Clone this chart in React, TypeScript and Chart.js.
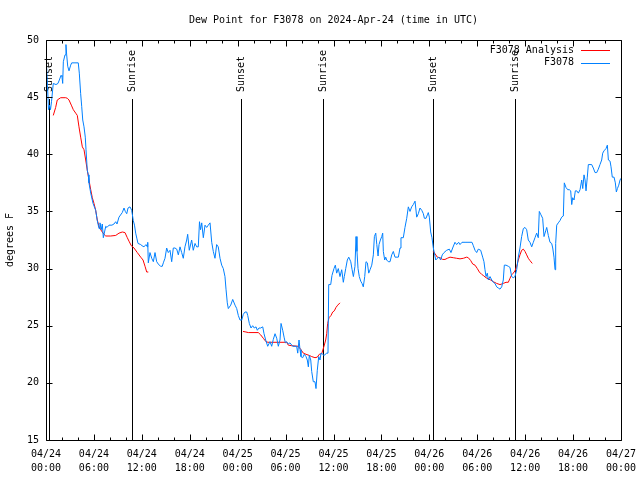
import React, { useEffect, useRef } from "react";
import { Chart, registerables } from "chart.js";

Chart.register(...registerables);

const TITLE = "Dew Point for F3078 on 2024-Apr-24 (time in UTC)";
const Y_LABEL = "degrees F";
const SERIES_NAMES = ["F3078 Analysis", "F3078"];

const xDateLabels = ["04/24", "04/24", "04/24", "04/24", "04/25", "04/25", "04/25", "04/25", "04/26", "04/26", "04/26", "04/26", "04/27"];
const xTimeLabels = ["00:00", "06:00", "12:00", "18:00", "00:00", "06:00", "12:00", "18:00", "00:00", "06:00", "12:00", "18:00", "00:00"];

const eventHours = [0.41, 10.8, 24.4, 34.72, 48.5, 58.76];
const eventLabels = ["Sunset", "Sunrise", "Sunset", "Sunrise", "Sunset", "Sunrise"];

// F3078 observed dew point (hours since 04/24 00:00 UTC)
const obsHours = [
  0.06, 0.19, 0.31, 0.44, 0.56, 0.69, 0.91, 1.25, 1.5, 1.67, 1.88, 2.0, 2.09, 2.17, 2.38, 2.5, 2.59, 2.72, 2.88, 3.09,
  3.22, 3.63, 4.04, 4.17, 4.34, 4.47, 4.6, 4.76, 4.92, 5.01, 5.17, 5.3, 5.38, 5.6, 5.89, 6.22, 6.42, 6.64, 6.76, 6.92,
  7.05, 7.18, 7.48, 7.64, 7.89, 8.26, 8.51, 8.73, 8.89, 9.14, 9.55, 9.77, 9.93, 10.11, 10.27, 10.52, 10.73, 10.93, 11.08, 11.23,
  11.39, 11.52, 11.86, 12.02, 12.27, 12.52, 12.69, 12.74, 12.81, 13.02, 13.24, 13.44, 13.65, 13.86, 14.06, 14.34, 14.56, 14.69, 14.9, 15.11,
  15.31, 15.53, 15.74, 15.94, 16.15, 16.37, 16.57, 16.78, 16.99, 17.19, 17.4, 17.62, 17.74, 17.94, 18.24, 18.44, 18.66, 18.87, 19.07, 19.22,
  19.35, 19.5, 19.7, 19.91, 20.12, 20.32, 20.54, 20.75, 20.95, 21.16, 21.37, 21.57, 21.79, 22.0, 22.2, 22.41, 22.54, 22.7, 22.83, 23.13,
  23.38, 23.67, 23.88, 24.08, 24.29, 24.51, 24.71, 24.92, 25.13, 25.26, 25.46, 25.67, 25.88, 26.08, 26.3, 26.46, 26.67, 26.88, 27.14, 27.3,
  27.51, 27.76, 28.05, 28.26, 28.46, 28.68, 28.89, 29.09, 29.3, 29.43, 29.64, 29.81, 29.97, 30.14, 30.34, 30.55, 30.89, 31.18, 31.39, 31.52,
  31.68, 31.81, 31.93, 32.14, 32.34, 32.56, 32.72, 32.85, 32.97, 33.15, 33.27, 33.47, 33.68, 33.81, 33.97, 34.15, 34.31, 34.44, 34.65, 34.81,
  35.15, 35.31, 35.4, 35.65, 35.81, 36.06, 36.23, 36.4, 36.6, 36.81, 37.03, 37.23, 37.35, 37.53, 37.73, 37.91, 38.16, 38.33, 38.49, 38.69,
  38.82, 38.94, 39.07, 39.23, 39.41, 39.57, 39.73, 39.91, 40.07, 40.24, 40.41, 40.58, 40.79, 40.99, 41.12, 41.29, 41.42, 41.58, 41.7, 41.87,
  42.04, 42.16, 42.24, 42.41, 42.54, 42.66, 42.86, 43.08, 43.29, 43.49, 43.7, 44.12, 44.33, 44.45, 44.74, 44.95, 45.17, 45.37, 45.58, 45.79,
  45.99, 46.21, 46.42, 46.62, 46.83, 47.05, 47.25, 47.38, 47.59, 47.75, 47.87, 48.0, 48.17, 48.33, 48.5, 48.62, 48.8, 49.0, 49.21, 49.42,
  49.62, 49.84, 50.17, 50.5, 50.71, 50.92, 51.21, 51.42, 51.67, 51.84, 52.09, 52.47, 52.84, 53.34, 53.51, 53.72, 53.93, 54.13, 54.43, 54.68,
  54.84, 54.97, 55.1, 55.26, 55.39, 55.6, 55.81, 56.01, 56.22, 56.43, 56.64, 56.85, 57.06, 57.26, 57.39, 57.6, 57.89, 58.1, 58.31, 58.51,
  58.72, 58.94, 59.14, 59.35, 59.56, 59.77, 59.98, 60.19, 60.39, 60.6, 60.82, 61.02, 61.23, 61.44, 61.64, 61.77, 61.98, 62.19, 62.36, 62.57,
  62.7, 62.9, 63.11, 63.32, 63.45, 63.61, 63.74, 63.82, 63.95, 64.15, 64.36, 64.57, 64.78, 64.9, 65.11, 65.33, 65.53, 65.7, 65.83, 65.95,
  66.12, 66.28, 66.46, 66.66, 66.87, 67.08, 67.21, 67.37, 67.5, 67.62, 67.78, 67.91, 68.33, 68.53, 68.75, 68.96, 69.16, 69.37, 69.58, 69.71,
  69.87, 70.12, 70.29, 70.42, 70.63, 70.75, 70.91, 71.13, 71.29, 71.42, 71.55, 71.72, 71.88, 72.0,
];
const obsDew = [
  47.8, 46.0, 43.9, 44.3, 43.9, 44.6, 46.2, 46.1, 46.2, 46.5, 46.9, 46.8, 46.2, 48.1, 48.7, 49.6, 48.7, 47.7, 47.3, 47.8,
  48.0, 48.0, 48.0, 47.1, 45.3, 44.2, 43.0, 42.4, 41.5, 40.4, 38.6, 38.2, 37.5, 36.6, 35.7, 35.1, 34.2, 33.5, 34.0, 33.4,
  33.9, 32.7, 33.7, 33.6, 33.8, 33.8, 33.9, 34.1, 33.9, 34.5, 34.9, 35.3, 35.0, 34.8, 35.3, 35.4, 35.1, 34.2, 33.8, 33.1,
  32.6, 32.2, 32.1, 32.0, 31.9, 32.1, 31.9, 32.3, 30.5, 31.4, 30.9, 30.6, 31.4, 30.6, 30.4, 30.2, 30.2, 30.5, 30.9, 31.8,
  31.4, 31.6, 30.6, 31.8, 31.8, 31.7, 31.2, 31.9, 31.4, 30.9, 31.9, 32.5, 33.0, 31.6, 32.5, 31.6, 32.2, 31.9, 31.9, 34.1,
  33.4, 34.0, 32.7, 33.8, 33.6, 33.8, 34.0, 32.3, 31.5, 30.9, 32.1, 31.9, 30.9, 30.3, 30.0, 29.3, 28.2, 27.0, 26.5, 26.8,
  27.3, 26.8, 26.5, 25.9, 25.5, 25.5, 26.0, 26.2, 26.2, 25.9, 25.2, 24.8, 25.0, 24.8, 24.9, 24.6, 24.8, 24.8, 24.9, 24.3,
  23.75, 23.2, 23.6, 23.2, 23.8, 24.3, 23.9, 23.2, 23.75, 25.2, 24.6, 24.0, 23.5, 23.6, 23.4, 23.5, 23.2, 23.2, 23.2, 22.6,
  23.75, 22.9, 22.3, 22.2, 22.5, 22.3, 22.0, 21.4, 22.4, 22.0, 21.0, 20.1, 20.1, 19.5, 21.1, 22.3, 22.0, 22.6, 22.5, 22.4,
  22.6, 22.6, 28.6, 28.6, 29.4, 30.0, 30.3, 29.6, 30.0, 29.3, 29.9, 28.8, 29.3, 30.0, 30.75, 31.0, 30.6, 29.9, 29.3, 30.2,
  32.8, 31.5, 30.0, 29.3, 28.9, 28.7, 28.4, 29.3, 30.6, 30.5, 29.6, 29.9, 30.3, 31.2, 32.8, 33.1, 32.1, 31.1, 32.1, 32.5,
  32.8, 33.1, 31.5, 30.75, 31.0, 30.75, 30.6, 30.6, 31.2, 31.5, 31.0, 31.0, 31.8, 32.7, 32.7, 33.6, 34.4, 35.4, 35.0, 35.4,
  35.6, 35.9, 34.5, 34.8, 35.3, 35.1, 34.8, 34.4, 34.4, 34.7, 34.9, 34.5, 33.2, 32.7, 31.8, 31.4, 30.75, 30.9, 31.0, 30.75,
  31.2, 31.4, 31.6, 31.7, 31.4, 31.8, 32.3, 32.1, 32.3, 32.1, 32.3, 32.3, 32.3, 32.3, 32.0, 31.6, 31.4, 31.7, 31.6, 31.0,
  30.6, 29.9, 29.3, 29.6, 29.0, 29.3, 29.0, 28.8, 28.7, 28.4, 28.3, 28.2, 28.4, 29.0, 30.3, 30.3, 30.2, 30.1, 29.3, 29.2,
  29.3, 29.9, 31.0, 31.8, 32.8, 33.5, 33.6, 33.4, 32.5, 32.3, 31.9, 32.3, 32.7, 33.1, 32.7, 35.0, 34.7, 34.4, 32.8, 33.3,
  33.6, 32.9, 32.3, 32.2, 31.8, 31.0, 29.9, 32.2, 33.8, 34.0, 34.2, 34.5, 34.6, 37.5, 37.1, 36.9, 36.9, 36.8, 35.6, 36.2,
  36.0, 36.8, 36.8, 36.6, 36.9, 37.75, 37.0, 38.2, 37.75, 36.8, 38.0, 39.1, 39.1, 38.8, 38.4, 38.4, 38.7, 39.1, 39.5, 40.1,
  40.3, 40.5, 40.8, 39.5, 39.4, 38.9, 38.0, 38.0, 37.5, 36.7, 37.0, 37.3, 37.75, 37.9,
];

// F3078 Analysis (null = no analysis available)
const anaHours = [
  0.91, 1.21, 1.41, 1.84, 2.47, 2.67, 2.88, 3.17, 3.42, 3.72, 3.92, 4.13, 4.34, 4.55, 4.76, 4.97, 5.17, 5.38, 5.6, 5.8,
  6.01, 6.22, 6.42, 6.64, 6.85, 7.05, 7.26, 7.48, 8.1, 8.73, 9.14, 9.55, 9.89, 10.18, 10.39, 10.68, 11.02, 11.43, 11.86, 12.15,
  12.4, 12.61, 12.81, 13.0,
  24.67, 25.04, 25.33, 26.58, 26.88, 27.21, 27.55, 27.8, 30.14, 30.34, 30.77, 31.59, 31.93, 32.22, 32.56, 32.97, 33.27, 33.68, 33.97, 34.22,
  34.52, 34.81, 35.02, 35.15, 35.27, 35.44, 35.69, 35.9, 36.1, 36.31, 36.53, 36.81, 37.0,
  48.5, 48.71, 49.0, 49.34, 49.67, 49.96, 50.25, 50.59, 51.0, 51.42, 51.84, 52.26, 52.68, 52.88, 53.18, 53.43, 53.72, 54.01, 54.26, 54.54,
  54.75, 55.1, 55.39, 55.68, 56.01, 56.43, 56.85, 57.26, 57.6, 57.89, 58.1, 58.31, 58.51, 58.72, 58.94, 59.14, 59.35, 59.56, 59.77, 59.98,
  60.19, 60.39, 60.6, 60.89,
];
const anaDew = [
  43.4, 44.1, 44.75, 44.95, 44.95, 44.9, 44.75, 44.3, 43.9, 43.6, 43.4, 42.4, 41.5, 40.65, 40.4, 39.5, 38.6, 37.75, 36.9, 36.2,
  35.7, 35.1, 34.25, 33.7, 33.4, 33.2, 33.0, 32.85, 32.85, 32.9, 33.1, 33.2, 33.15, 32.7, 32.4, 32.0, 31.8, 31.4, 31.0, 30.75,
  30.2, 29.7, 29.7, null,
  24.5, 24.45, 24.4, 24.4, 24.2, 23.9, 23.6, 23.55, 23.55, 23.3, 23.25, 23.2, 22.9, 22.6, 22.5, 22.4, 22.3, 22.2, 22.25, 22.5,
  22.55, 23.2, 23.75, 24.3, 25.2, 25.7, 25.9, 26.2, 26.3, 26.6, 26.8, 27.0, null,
  31.5, 31.3, 31.0, 30.95, 30.8, 30.8, 30.9, 31.0, 30.95, 30.9, 30.85, 30.9, 31.0, 30.95, 30.7, 30.4, 30.3, 30.0, 29.7, 29.5,
  29.4, 29.2, 29.1, 29.0, 28.85, 28.7, 28.6, 28.7, 28.8, 28.8, 29.15, 29.45, 29.6, 29.8, 30.2, 30.75, 31.2, 31.6, 31.7, 31.5,
  31.2, 30.9, 30.7, 30.45,
];

const RED = "#ff0000";
const BLUE = "#0080ff";
const FONT = "'DejaVu Sans Mono', monospace";

const gnuplotDecor = {
  id: "gnuplotDecor",
  beforeDatasetsDraw(chart: any) {
    const { ctx, chartArea, scales } = chart;
    const xs = scales.x;
    ctx.save();
    ctx.strokeStyle = "#000";
    ctx.lineWidth = 1;
    ctx.fillStyle = "#000";
    ctx.font = `10px ${FONT}`;
    eventHours.forEach((h, i) => {
      const px = Math.round(xs.getPixelForValue(h)) + 0.5;
      ctx.beginPath();
      ctx.moveTo(px, 99);
      ctx.lineTo(px, chartArea.bottom);
      ctx.stroke();
      ctx.save();
      ctx.translate(px, 92);
      ctx.rotate(-Math.PI / 2);
      ctx.textAlign = "left";
      ctx.textBaseline = "middle";
      ctx.fillText(eventLabels[i], 0, 0);
      ctx.restore();
    });
    ctx.restore();
  },
  afterDraw(chart: any) {
    const { ctx, chartArea, scales } = chart;
    const xs = scales.x;
    const ys = scales.y;
    const L = Math.round(chartArea.left) + 0.5;
    const R = Math.round(chartArea.right) + 0.5;
    const T = Math.round(chartArea.top) + 0.5;
    const B = Math.round(chartArea.bottom) + 0.5;
    ctx.save();
    ctx.strokeStyle = "#000";
    ctx.lineWidth = 1;
    ctx.beginPath();
    ctx.rect(L, T, R - L, B - T);
    // x ticks (major every 6 h, minor every 2 h), mirrored on top
    for (let h = 0; h <= 72; h += 2) {
      const px = Math.round(xs.getPixelForValue(h)) + 0.5;
      const len = h % 6 === 0 ? 6 : 3;
      ctx.moveTo(px, B);
      ctx.lineTo(px, B - len);
      ctx.moveTo(px, T);
      ctx.lineTo(px, T + len);
    }
    // y ticks, mirrored on right
    for (let v = 15; v <= 50; v += 5) {
      const py = Math.round(ys.getPixelForValue(v)) + 0.5;
      ctx.moveTo(L, py);
      ctx.lineTo(L + 6, py);
      ctx.moveTo(R, py);
      ctx.lineTo(R - 6, py);
    }
    ctx.stroke();

    // legend
    ctx.font = `10px ${FONT}`;
    ctx.fillStyle = "#000";
    ctx.textAlign = "right";
    ctx.textBaseline = "middle";
    const colors = [RED, BLUE];
    SERIES_NAMES.forEach((name, i) => {
      const y = 50 + i * 12.5;
      ctx.fillText(name, 574, y);
      ctx.strokeStyle = colors[i];
      ctx.beginPath();
      ctx.moveTo(581, Math.round(y) + 0.5);
      ctx.lineTo(610, Math.round(y) + 0.5);
      ctx.stroke();
    });
    ctx.restore();
  },
};

export default function App() {
  const ref = useRef<HTMLCanvasElement | null>(null);
  useEffect(() => {
    if (!ref.current) return;
    const obsData = obsHours.map((h, i) => ({ x: h, y: obsDew[i] }));
    const anaData = anaHours.map((h, i) => ({ x: h, y: anaDew[i] }));
    const chart = new Chart(ref.current, {
      type: "line",
      data: {
        datasets: [
          {
            label: SERIES_NAMES[1],
            data: obsData,
            borderColor: BLUE,
            borderWidth: 1,
            pointRadius: 0,
            tension: 0,
            fill: false,
          },
          {
            label: SERIES_NAMES[0],
            data: anaData,
            borderColor: RED,
            borderWidth: 1,
            pointRadius: 0,
            tension: 0,
            fill: false,
            spanGaps: false,
          },
        ],
      },
      options: {
        animation: false,
        responsive: false,
        events: [],
        layout: { padding: { left: 0, right: 19, top: 0, bottom: 0 } },
        plugins: {
          legend: { display: false },
          tooltip: { enabled: false },
          title: {
            display: true,
            text: TITLE,
            fullSize: false,
            color: "#000",
            font: { family: FONT, size: 10, weight: "normal", lineHeight: 1.2 },
            padding: { top: 14, bottom: 14 },
          },
        },
        scales: {
          x: {
            type: "linear",
            min: 0,
            max: 72,
            grid: { display: false, drawTicks: false },
            border: { display: false },
            afterFit: (s: any) => {
              s.height = 40;
              s.paddingLeft = 0;
              s.paddingRight = 0;
            },
            afterBuildTicks: (s: any) => {
              s.ticks = xTimeLabels.map((_, i) => ({ value: i * 6 }));
            },
            ticks: {
              autoSkip: false,
              maxRotation: 0,
              minRotation: 0,
              padding: 7,
              color: "#000",
              font: { family: FONT, size: 10, lineHeight: 1.4 },
              callback: (v: any) => {
                const i = Math.round(Number(v) / 6);
                return [xDateLabels[i], xTimeLabels[i]];
              },
            },
          },
          y: {
            type: "linear",
            min: 15,
            max: 50,
            grid: { display: false, drawTicks: false },
            border: { display: false },
            afterFit: (s: any) => {
              s.width = 46;
              s.paddingTop = 0;
              s.paddingBottom = 0;
            },
            title: {
              display: true,
              text: Y_LABEL,
              color: "#000",
              font: { family: FONT, size: 10, lineHeight: 1.2 },
              padding: { top: 4, bottom: 0 },
            },
            ticks: {
              stepSize: 5,
              padding: 7,
              color: "#000",
              font: { family: FONT, size: 10 },
            },
          },
        },
      },
      plugins: [gnuplotDecor],
    });
    return () => chart.destroy();
  }, []);
  return (
    <div style={{ position: "absolute", left: 0, top: 0, width: 640, height: 480, background: "#fff" }}>
      <canvas ref={ref} width={640} height={480} style={{ display: "block" }} />
    </div>
  );
}
